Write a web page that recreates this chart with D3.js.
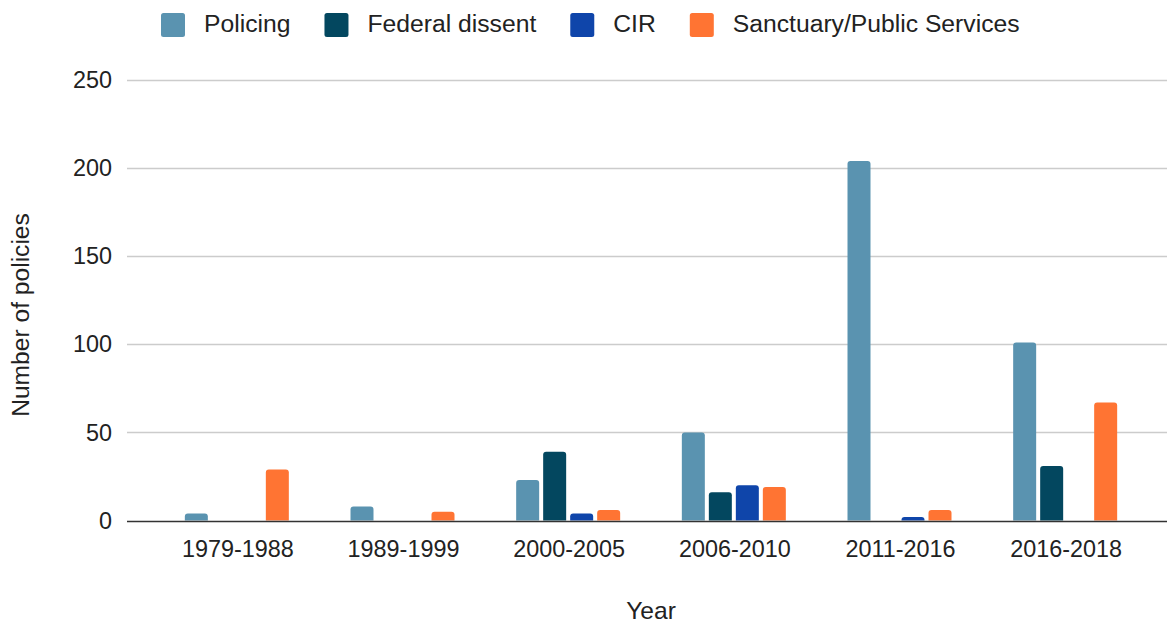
<!DOCTYPE html>
<html>
<head>
<meta charset="utf-8">
<script src="https://cdn.jsdelivr.net/npm/d3@7"></script>
<style>
  html, body { margin: 0; padding: 0; background: #fff; }
  svg { display: block; font-family: "Liberation Sans", Arial, sans-serif; }
</style>
</head>
<body>
<svg id="chart" width="1167" height="626"></svg>
<script>
const categories = ["1979-1988", "1989-1999", "2000-2005", "2006-2010", "2011-2016", "2016-2018"];
const seriesNames = ["Policing", "Federal dissent", "CIR", "Sanctuary/Public Services"];
const policing   = [4, 8, 23, 50, 204, 101];
const federal    = [0, 0, 39, 16, 0, 31];
const cir        = [0, 0, 4, 20, 2, 0];
const sanctuary  = [29, 5, 6, 19, 6, 67];
const yTicks = [0, 50, 100, 150, 200, 250];
const colors = ["#5a93b0", "#03475f", "#0f45aa", "#ff7433"];

const seriesValues = [policing, federal, cir, sanctuary];
const svg = d3.select("#chart");

const gridLeft = 127, gridRight = 1167;
const x = d3.scaleBand().domain(categories).range([154, 1148]).paddingInner(0).paddingOuter(0);
const groupW = 104;
const xs = d3.scaleBand().domain(seriesNames).range([0, groupW]).paddingInner(4 / 27).paddingOuter(0);
const y = d3.scaleLinear().domain([0, 250]).range([520.5, 80]);

// gridlines
svg.append("g").selectAll("line").data(yTicks.filter(t => t !== 0)).join("line")
  .attr("x1", gridLeft).attr("x2", gridRight)
  .attr("y1", d => Math.round(y(d)) + 0.5).attr("y2", d => Math.round(y(d)) + 0.5)
  .attr("stroke", "#cccccc").attr("stroke-width", 1.3);

// y tick labels
svg.append("g").selectAll("text").data(yTicks).join("text")
  .attr("x", 112).attr("y", d => y(d))
  .attr("dy", "0.35em")
  .attr("text-anchor", "end")
  .attr("font-size", "23.4px").attr("fill", "#222")
  .text(d => d);

// bars
function topRounded(x0, y0, w, h, r) {
  r = Math.min(r, h, w / 2);
  if (h <= 0) return "";
  return `M${x0},${y0 + h}V${y0 + r}Q${x0},${y0} ${x0 + r},${y0}H${x0 + w - r}Q${x0 + w},${y0} ${x0 + w},${y0 + r}V${y0 + h}Z`;
}
const barData = [];
categories.forEach((c, i) => {
  seriesNames.forEach((s, j) => {
    barData.push({ cat: c, series: s, value: seriesValues[j][i], color: colors[j] });
  });
});
const off = (x.bandwidth() - groupW) / 2;
svg.append("g").selectAll("path").data(barData.filter(d => d.value > 0)).join("path")
  .attr("d", d => {
    const bx = x(d.cat) + off + xs(d.series);
    const by = y(d.value);
    return topRounded(bx, by, xs.bandwidth(), y(0) - by, 3);
  })
  .attr("fill", d => d.color);

// baseline
svg.append("line")
  .attr("x1", gridLeft).attr("x2", gridRight)
  .attr("y1", Math.round(y(0)) + 0.5).attr("y2", Math.round(y(0)) + 0.5)
  .attr("stroke", "#333").attr("stroke-width", 1.5);

// x labels
svg.append("g").selectAll("text").data(categories).join("text")
  .attr("x", d => x(d) + x.bandwidth() / 2 + 1)
  .attr("y", 557)
  .attr("text-anchor", "middle")
  .attr("font-size", "23.4px").attr("fill", "#222")
  .text(d => d);

// axis titles
svg.append("text")
  .attr("x", 651).attr("y", 619)
  .attr("text-anchor", "middle")
  .attr("font-size", "24.6px").attr("fill", "#222")
  .text("Year");
svg.append("text")
  .attr("transform", "translate(28.5,315) rotate(-90)")
  .attr("text-anchor", "middle")
  .attr("font-size", "24.6px").attr("fill", "#222")
  .text("Number of policies");

// legend
const legend = svg.append("g");
let lx = 161;
seriesNames.forEach((s, j) => {
  legend.append("rect")
    .attr("x", lx).attr("y", 13).attr("width", 24).attr("height", 24)
    .attr("rx", 2.5).attr("fill", colors[j]);
  const t = legend.append("text")
    .attr("x", lx + 43).attr("y", 32)
    .attr("font-size", "24.7px").attr("fill", "#222")
    .text(s);
  lx = lx + 43 + t.node().getComputedTextLength() + 34;
});
</script>
</body>
</html>
